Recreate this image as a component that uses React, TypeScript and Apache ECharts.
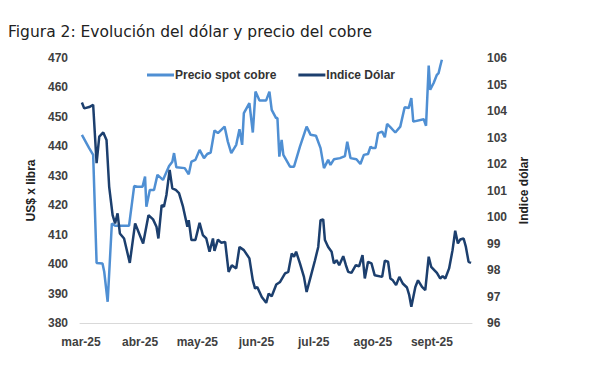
import React, { useEffect, useRef } from "react";
import * as echarts from "echarts";

const titleText = "Figura 2: Evolución del dólar y precio del cobre";
const copperName = "Precio spot cobre";
const dollarName = "Indice Dólar";

// x values are days since 1 Mar 2025
const monthTickDays = [0, 31, 61, 92, 122, 153, 184];
const monthLabels = ["mar-25", "abr-25", "may-25", "jun-25", "jul-25", "ago-25", "sept-25"];

const copperDays = [
  0.5, 4.3, 6.4, 8.2, 11.3, 12.2, 14, 16.2, 17.9, 25.2, 27.9, 29.6, 32.3, 33.6, 34.3, 36.1, 38.3, 40.1, 43, 46.2,
  47.9, 48.8, 50, 54.4, 56.5, 57.9, 60, 62.2, 64.5, 66.2, 68, 70, 71.8, 75.3, 77, 78.8, 81.4, 83.1, 84.5, 85.4,
  88.3, 90.1, 91.5, 93.6, 97.1, 98.8, 100, 102.3, 103, 104, 105.2, 106.1, 109.6, 111.7, 114.8, 118.3, 120.4, 123.2,
  125.6, 127.4, 129.6, 130.8, 132.6, 135.8, 138.4, 139.6, 141.3, 144.4, 146.5, 148.3, 150.5, 151.8, 152.8, 154.4,
  155.8, 157.9, 159.3, 160.5, 162.2, 164.8, 167.4, 169.7, 171.8, 173.2, 174.2, 179.7, 180.9, 182.3, 183.1, 184.9,
  186.6, 187.5, 188.3, 189.2,
];
const copperValues = [
  443.9, 439.4, 437.1, 400.4, 400.2, 397.4, 387.2, 413.8, 413, 413, 426.5, 426.3, 426.3, 429.7, 419.5, 425.2, 425.2,
  430.3, 428.6, 433.3, 434.8, 437.7, 432.9, 432.6, 430.5, 434.8, 435.4, 438.8, 436, 437.4, 437.9, 445.4, 444.5, 446.7,
  441.6, 437.7, 440.5, 445.8, 440.5, 451.3, 454.7, 444.7, 458.6, 455.6, 455.6, 458.6, 452.4, 449.6, 449.6, 436.5,
  442.2, 437.1, 433.1, 433.1, 439.9, 446.7, 443.9, 443.6, 439.4, 432.6, 435.4, 433.7, 435.6, 436, 436.7, 441.6, 436,
  435.6, 434, 437.1, 437.4, 439.9, 439.4, 439.4, 444.5, 445, 443.1, 447.6, 446.5, 444.7, 446.7, 453.3, 453, 456.4,
  448.4, 449.2, 447, 467.4, 459.2, 461.5, 464.3, 464.9, 467.1, 469.4,
];

const dollarDays = [
  0.5, 1.7, 4.3, 6.4, 8.2, 9.6, 11.7, 13.4, 14.8, 16.6, 17.9, 19.2, 20.4, 22.6, 25.6, 28.4, 30.5, 32.6, 35.4, 37.8,
  39.6, 40.6, 42.3, 43.5, 44.8, 46.5, 47.9, 49.7, 51.4, 53.5, 55.8, 56.5, 57.9, 60, 62.2, 63.9, 65.7, 67.4, 69.2, 70,
  71.8, 73.5, 75.6, 77.4, 79.1, 81.4, 83.1, 85.4, 88.3, 90.1, 91.3, 92.4, 94.8, 97.1, 98.4, 100, 102.4, 104.4, 107,
  108.7, 110.5, 111.7, 112.8, 114.8, 116.9, 118.3, 120.4, 122.7, 124.4, 125.6, 127, 127.9, 129.6, 131.4, 132.6, 134,
  135.4, 137.5, 138.9, 140.1, 141.8, 144.1, 145.8, 147.6, 148.8, 150.5, 152.3, 154, 157.9, 159.3, 161, 162.2, 163.5,
  165.2, 166.9, 168.7, 170.9, 172.1, 173.2, 175.3, 176.7, 178.8, 180.5, 182.3, 183.6, 186.6, 188.3, 189.6, 191, 193,
  194.8, 196.2, 197.6, 198.8, 200.6, 201.8, 203.2, 204.5,
];
const dollarValues = [
  104.32, 104.1, 104.15, 104.23, 102.03, 103.03, 103.19, 102.91, 101.14, 100.07, 99.76, 100.14, 99.38, 99.19, 98.27,
  99.76, 99.38, 99.0, 100.07, 99.91, 99.63, 99.19, 100.45, 100.39, 100.83, 101.78, 101.08, 101.02, 100.9, 100.39,
  99.63, 99.88, 99.13, 99.13, 99.78, 99.32, 99.19, 98.69, 99.19, 98.72, 99.15, 99.03, 99.06, 97.93, 98.18, 98.06,
  98.87, 98.75, 98.44, 97.61, 97.3, 97.36, 96.98, 96.76, 97.11, 97.01, 97.45, 97.55, 97.87, 97.93, 98.62, 98.5,
  98.69, 98.25, 97.74, 97.17, 97.74, 98.37, 98.87, 99.88, 99.91, 99.13, 98.87, 98.69, 98.25, 98.37, 98.18, 98.52,
  98.18, 97.93, 97.89, 98.18, 98.14, 98.56, 97.68, 98.31, 98.25, 97.8, 97.74, 98.35, 98.31, 97.68, 97.61, 97.43,
  97.74, 97.49, 97.34, 97.05, 96.61, 97.36, 97.61, 97.36, 97.24, 98.5, 98.12, 97.89, 97.68, 97.77, 97.68, 98.06,
  98.75, 99.48, 99.0, 99.15, 99.19, 98.87, 98.31, 98.27,
];

const leftTicks = { min: 380, max: 470, interval: 10 };
const rightTicks = { min: 96, max: 106, interval: 1 };

export default function App() {
  const ref = useRef<HTMLDivElement>(null);
  useEffect(() => {
    if (!ref.current) return;
    const chart = echarts.init(ref.current, null, { renderer: "svg" });
    const labelFont = {
      fontFamily: "Liberation Sans",
      fontWeight: "bold" as const,
      fontSize: 12,
      color: "#404040",
    };
    chart.setOption({
      animation: false,
      backgroundColor: "#ffffff",
      title: {
        text: titleText,
        left: 3,
        top: 19,
        textStyle: {
          fontFamily: "DejaVu Sans",
          fontWeight: "normal",
          fontSize: 15.5,
          color: "#222222",
        },
      },
      legend: {
        left: 142,
        top: 64,
        itemWidth: 27,
        itemHeight: 3,
        itemGap: 22,
        icon: "rect",
        textStyle: { ...labelFont, color: "#333333", padding: [0, 0, 0, -4] },
        data: [copperName, dollarName],
      },
      grid: { left: 80, right: 128, top: 58, bottom: 46 },
      xAxis: {
        type: "value",
        min: -0.5,
        max: 205,
        axisLine: { show: true, lineStyle: { color: "#d9d9d9", width: 1 } },
        axisTick: { show: false },
        splitLine: { show: false },
        axisLabel: {
          ...labelFont,
          margin: 13,
          customValues: monthTickDays,
          formatter: (v: number) => {
            const i = monthTickDays.indexOf(Math.round(v));
            return i >= 0 ? monthLabels[i] : "";
          },
        },
      },
      yAxis: [
        {
          type: "value",
          ...leftTicks,
          position: "left",
          name: "US$ x libra",
          nameLocation: "middle",
          nameRotate: 90,
          nameGap: 40,
          nameTextStyle: { ...labelFont, color: "#222222" },
          axisLine: { show: false },
          axisTick: { show: false },
          splitLine: { show: false },
          axisLabel: { ...labelFont, margin: 12 },
        },
        {
          type: "value",
          ...rightTicks,
          position: "right",
          name: "Indice dólar",
          nameLocation: "middle",
          nameRotate: 90,
          nameGap: 44,
          nameTextStyle: { ...labelFont, color: "#222222" },
          axisLine: { show: false },
          axisTick: { show: false },
          splitLine: { show: false },
          axisLabel: { ...labelFont, margin: 15 },
        },
      ],
      series: [
        {
          name: copperName,
          type: "line",
          yAxisIndex: 0,
          symbol: "none",
          lineStyle: { color: "#4f8fd3", width: 2.5 },
          itemStyle: { color: "#4f8fd3" },
          data: copperDays.map((d, i) => [d, copperValues[i]]),
        },
        {
          name: dollarName,
          type: "line",
          yAxisIndex: 1,
          symbol: "none",
          lineStyle: { color: "#1c3f6e", width: 2.5 },
          itemStyle: { color: "#1c3f6e" },
          data: dollarDays.map((d, i) => [d, dollarValues[i]]),
        },
      ],
    });
    return () => chart.dispose();
  }, []);
  return (
    <div
      ref={ref}
      style={{ position: "fixed", left: 0, top: 0, width: 600, height: 369, background: "#fff" }}
    />
  );
}
